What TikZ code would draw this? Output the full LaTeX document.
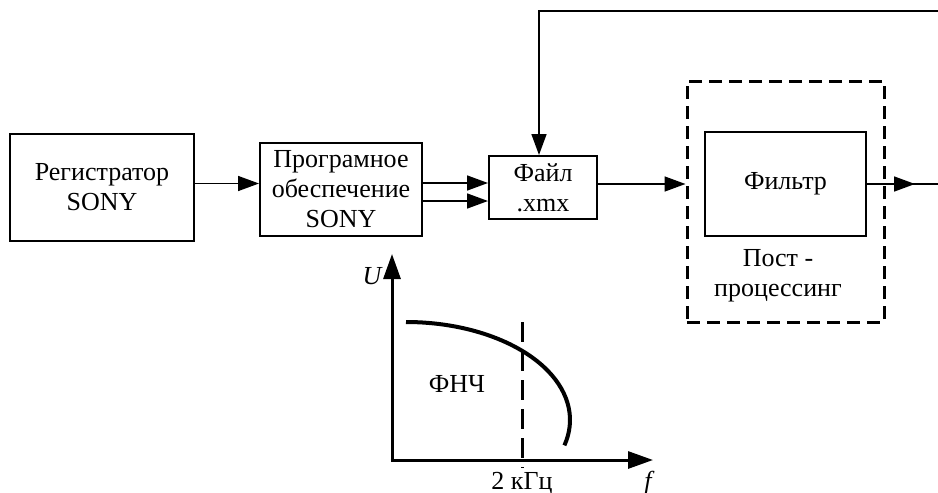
\documentclass[tikz,border=0pt]{standalone}
\usepackage{fontspec}
\setmainfont{Liberation Serif}
\usetikzlibrary{arrows.meta}
\begin{document}
\begin{tikzpicture}[x=1pt,y=-1pt,
  every node/.style={font=\fontsize{26}{30}\selectfont},
  blk/.style={draw, line width=2pt, align=center, inner sep=0pt},
  con/.style={line width=1.6pt},
  arr/.style={con, -{Triangle[length=21pt,width=15pt]}},
  axis/.style={line width=3pt, -{Triangle[length=25pt,width=17pt]}},
  dashbox/.style={draw, line width=3pt, dash pattern=on 13pt off 7pt, inner sep=0pt},
  cutoff/.style={line width=3pt, dash pattern=on 20pt off 9pt},
  resp/.style={line width=4pt}]
\useasboundingbox (0,0) rectangle (938,493);

% blocks
\node[blk, minimum width=184pt, minimum height=107pt] (reg) at (102,187.5) {Регистратор\\SONY};
\node[blk, minimum width=162pt, minimum height=93pt] (soft) at (341,189.5) {Програмное\\обеспечение\\SONY};
\node[blk, minimum width=108pt, minimum height=63pt] (file) at (543,187.5) {Файл\\.xmx};
\node[dashbox, minimum width=197pt, minimum height=241pt] (post) at (785.5,201.5) {};
\node[blk, minimum width=161pt, minimum height=104pt] (filt) at (785.5,184) {Фильтр};
\node[align=center] (postlbl) at (778,275.5) {Пост -\\процессинг};

% connectors
\draw[arr] ([yshift=4pt]reg.east) -- ([yshift=4pt]reg.east -| soft.west);
\draw[arr] ([yshift=6.5pt]soft.east) -- ([yshift=6.5pt]soft.east -| file.west);
\draw[arr] ([yshift=-11.5pt]soft.east) -- ([yshift=-11.5pt]soft.east -| file.west);
\draw[arr] ([yshift=3.5pt]file.east) -- ([yshift=3.5pt]file.east -| post.west);
\coordinate (out) at (938,184);
\coordinate (outtip) at (915,184);
\draw[con] (filt.east) -- (out);
\draw[arr] (filt.east) -- (outtip);
\coordinate (fb) at (938,11);
\draw[arr] (fb) -| ([xshift=-4pt]file.north);

% graph
\coordinate (o) at (392,460);
\coordinate (ytip) at (392,254);
\coordinate (xtip) at (653,460);
\draw[axis] ([yshift=-1.5pt]o) -- (ytip);
\draw[axis] ([xshift=-1.5pt]o) -- (xtip);
\draw[cutoff] (522,322) -- (522,468);
\draw[resp] (406,322) arc[start angle=-90, end angle=15, x radius=164, y radius=98];
\node[anchor=base] (ulbl) at (372,284) {\itshape U};
\node[anchor=base] (flbl) at (648,489) {\itshape f};
\node[anchor=base] (khz) at (522,489) {2 кГц};
\node[anchor=base] (lpf) at (457,392) {ФНЧ};
\end{tikzpicture}
\end{document}
